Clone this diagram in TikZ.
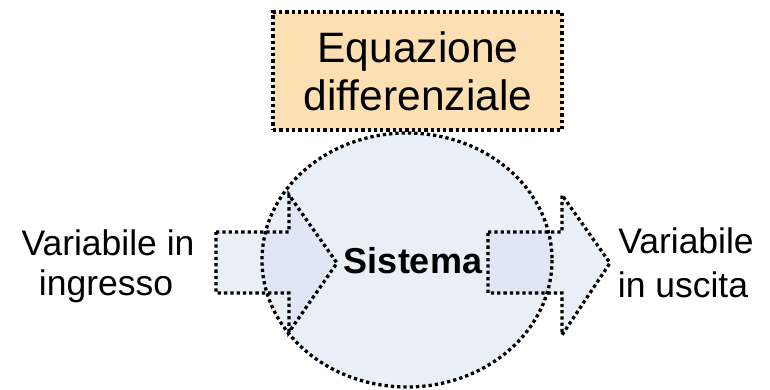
\documentclass[tikz,border=0pt]{standalone}
\usepackage{fontspec}
\setmainfont{Liberation Sans}
\usetikzlibrary{shapes.geometric}
\definecolor{boxfill}{RGB}{252,224,180}
\definecolor{sysfill}{RGB}{212,223,240}
\tikzset{
  dotline/.style={line width=3.3pt, dash pattern=on 3.3pt off 3pt},
  sysfillstyle/.style={fill=sysfill, fill opacity=0.5},
  sidetext/.style={font=\fontsize{35.5}{40}\selectfont, anchor=base, inner sep=0pt},
  boxtext/.style={font=\fontsize{42.5}{48}\selectfont, anchor=base, inner sep=0pt},
}
\begin{document}
\begin{tikzpicture}[x=1pt,y=-1pt]
\useasboundingbox (0,0) rectangle (770,389);
% arrow corner points
\coordinate (a1) at (216,232); \coordinate (a2) at (289,232); \coordinate (a3) at (289,195);
\coordinate (a4) at (337,263); \coordinate (a5) at (289,332); \coordinate (a6) at (289,293);
\coordinate (a7) at (216,293);
\coordinate (b1) at (488,232); \coordinate (b2) at (562,232); \coordinate (b3) at (562,195);
\coordinate (b4) at (610,263); \coordinate (b5) at (562,335); \coordinate (b6) at (562,293);
\coordinate (b7) at (488,293);
% fills
\node[sysfillstyle, ellipse, minimum width=290pt, minimum height=254pt, inner sep=0pt] (sys) at (407,260) {};
\fill[sysfillstyle] (a1) -- (a2) -- (a3) -- (a4) -- (a5) -- (a6) -- (a7) -- cycle;
\fill[sysfillstyle] (b1) -- (b2) -- (b3) -- (b4) -- (b5) -- (b6) -- (b7) -- cycle;
% outlines
\draw[dotline] (sys.center) ellipse [x radius=145, y radius=127];
\draw[dotline] (a1) -- (a2) -- (a3) -- (a4) -- (a5) -- (a6) -- (a7) -- cycle;
\draw[dotline] (b1) -- (b2) -- (b3) -- (b4) -- (b5) -- (b6) -- (b7) -- cycle;
% equation box
\node[dotline, draw, fill=boxfill, minimum width=289pt, minimum height=118pt, inner sep=0pt] (eqbox) at (417.5,71) {};
\node[boxtext] (eq1) at (418,62) {Equazione};
\node[boxtext] (eq2) at (418,110) {differenziale};
% texts
\node[font=\fontsize{36}{40}\selectfont\bfseries, anchor=base, inner sep=0pt] (systext) at (413,273) {Sistema};
\node[sidetext] (in1) at (108,255) {Variabile in};
\node[sidetext] (in2) at (106,295) {ingresso};
\node[sidetext] (out1) at (686,253) {Variabile};
\node[sidetext] (out2) at (683,297) {in uscita};
\end{tikzpicture}
\end{document}
